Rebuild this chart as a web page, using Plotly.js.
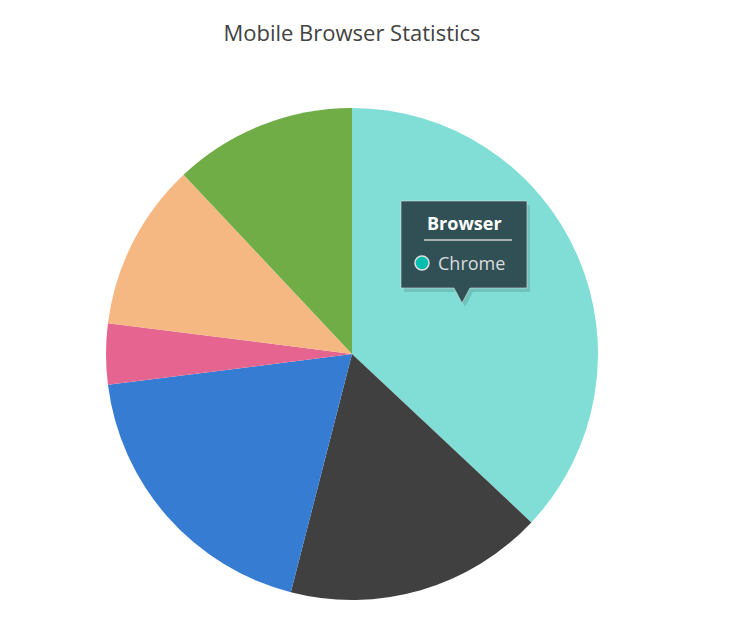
<!DOCTYPE html>
<html>
<head>
<meta charset="utf-8">
<script src="https://cdn.plot.ly/plotly-3.0.1.min.js"></script>
<style>html,body{margin:0;padding:0;background:#fff;}#chart{width:737px;height:640px;}</style>
</head>
<body>
<div id="chart"></div>
<script>
const browsers = ["Chrome", "UC Browser", "iPhone", "Others", "Opera", "Android"];
const shares = [37, 17, 19, 4, 11, 12];
const sliceColors = ["#80ded6", "#404041", "#357cd2", "#e56590", "#f6b883", "#70ad47"];
const tooltipTitle = "Browser";
const tooltipItem = "Chrome";

const W = 737, H = 640;
const px = x => x / W;
const py = y => 1 - y / H;

// tooltip geometry (pixels)
const tx0 = 401, tx1 = 527, ty0 = 201, ty1 = 288, tipX = 462, tipY = 303;
function boxPath(dx, dy) {
  return `M ${px(tx0+dx)} ${py(ty0+dy)} L ${px(tx1+dx)} ${py(ty0+dy)} L ${px(tx1+dx)} ${py(ty1+dy)} ` +
         `L ${px(tipX+8+dx)} ${py(ty1+dy)} L ${px(tipX+dx)} ${py(tipY+dy)} L ${px(tipX-8+dx)} ${py(ty1+dy)} ` +
         `L ${px(tx0+dx)} ${py(ty1+dy)} Z`;
}

const data = [{
  type: "pie",
  labels: browsers,
  values: shares,
  marker: { colors: sliceColors, line: { width: 0 } },
  sort: false,
  direction: "clockwise",
  rotation: 0,
  textinfo: "none",
  hoverinfo: "none",
  showlegend: false,
  domain: { x: [106 / W, 598 / W], y: [39 / H, 533 / H] }
}];

const layout = {
  width: W, height: H,
  margin: { l: 0, r: 0, t: 0, b: 0 },
  paper_bgcolor: "#ffffff",
  title: {
    text: "Mobile Browser Statistics",
    font: { family: "Open Sans, Noto Sans, sans-serif", size: 22, color: "#424242", weight: 500 },
    x: 352 / W, xanchor: "center", y: py(33), yanchor: "middle"
  },
  shapes: [
    { type: "path", xref: "paper", yref: "paper", path: boxPath(3, 4), fillcolor: "rgba(0,0,0,0.12)", line: { width: 0 } },
    { type: "path", xref: "paper", yref: "paper", path: boxPath(0, 0), fillcolor: "rgb(49,80,86)", line: { color: "rgba(220,220,220,0.6)", width: 1 } },
    { type: "line", xref: "paper", yref: "paper", x0: px(424), x1: px(512), y0: py(240), y1: py(240), line: { color: "#d0d0d0", width: 1.5 } },
    { type: "circle", xref: "paper", yref: "paper", x0: px(415), x1: px(429), y0: py(270), y1: py(256), fillcolor: "#00bdae", line: { color: "#e0e0e0", width: 1.5 } }
  ],
  annotations: [
    { xref: "paper", yref: "paper", x: px(464), y: py(223), text: "<b>" + tooltipTitle + "</b>", showarrow: false,
      xanchor: "center", yanchor: "middle", font: { family: "Open Sans, Noto Sans, sans-serif", size: 18, color: "#ffffff" } },
    { xref: "paper", yref: "paper", x: px(436), y: py(263), text: tooltipItem, showarrow: false,
      xanchor: "left", yanchor: "middle", font: { family: "Open Sans, Noto Sans, sans-serif", size: 18, color: "#dcdcdc" } }
  ]
};

Plotly.newPlot("chart", data, layout, { displayModeBar: false, staticPlot: true });
</script>
</body>
</html>
